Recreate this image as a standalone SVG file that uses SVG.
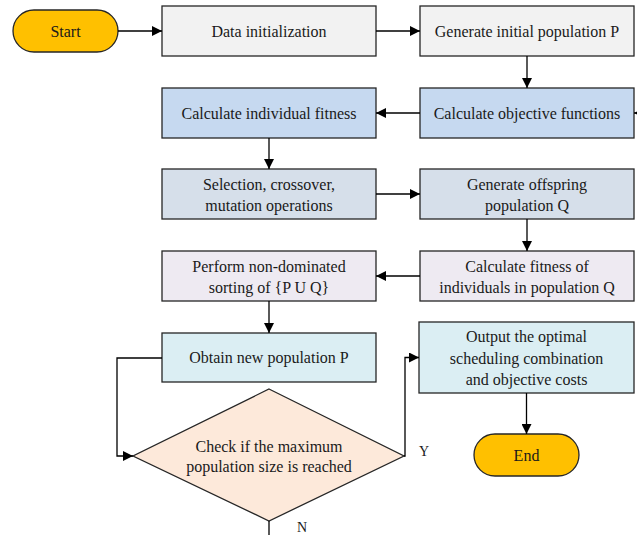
<svg xmlns="http://www.w3.org/2000/svg" width="637" height="535" viewBox="0 0 637 535">
  <defs>
    <marker id="arrow" viewBox="0 0 10 10" refX="10" refY="5" markerWidth="10" markerHeight="10" markerUnits="userSpaceOnUse" orient="auto">
      <path d="M0,0 L10,5 L0,10 z" fill="#000"/>
    </marker>
    <style>
      .box { stroke: #262626; stroke-width: 1.3; }
      .term { fill: #FFC000; stroke: #262626; stroke-width: 1.3; }
      .r1 { fill: #F2F2F2; }
      .r2 { fill: #C6D9F0; }
      .r3 { fill: #D6DFEA; }
      .r4 { fill: #EEEAF2; }
      .r5 { fill: #DBEEF3; }
      .dec { fill: #FDE9DA; stroke: #262626; stroke-width: 1.3; }
      text { font-family: "Liberation Serif", "DejaVu Serif", "Noto Serif", "FreeSerif", "Nimbus Roman", Times, serif; font-size: 16px; fill: #1a1a1a; text-anchor: middle; }
      .edge { fill: none; stroke: #000; stroke-width: 1.3; }
    </style>
  </defs>

  <!-- process nodes -->
  <g id="start">
    <rect class="term" x="13" y="10" width="105" height="42" rx="21"/>
    <text x="65.5" y="36.5">Start</text>
  </g>
  <g id="data-init">
    <rect class="box r1" x="162" y="6" width="214" height="50"/>
    <text x="269" y="36.5">Data initialization</text>
  </g>
  <g id="gen-initial">
    <rect class="box r1" x="420" y="6" width="214" height="50"/>
    <text x="527" y="36.5">Generate initial population P</text>
  </g>
  <g id="calc-fitness">
    <rect class="box r2" x="162" y="88" width="214" height="50"/>
    <text x="269" y="118.5">Calculate individual fitness</text>
  </g>
  <g id="calc-objective">
    <rect class="box r2" x="420" y="88" width="214" height="50"/>
    <text x="527" y="118.5">Calculate objective functions</text>
  </g>
  <g id="genetic-ops">
    <rect class="box r3" x="162" y="169" width="214" height="50"/>
    <text x="269" y="190">Selection, crossover,</text>
    <text x="269" y="211">mutation operations</text>
  </g>
  <g id="gen-offspring">
    <rect class="box r3" x="420" y="169" width="214" height="50"/>
    <text x="527" y="190">Generate offspring</text>
    <text x="527" y="211">population Q</text>
  </g>
  <g id="nd-sort">
    <rect class="box r4" x="162" y="251" width="214" height="50"/>
    <text x="269" y="272">Perform non-dominated</text>
    <text x="269" y="293">sorting of {P U Q}</text>
  </g>
  <g id="calc-fitness-q">
    <rect class="box r4" x="420" y="251" width="214" height="50"/>
    <text x="527" y="272">Calculate fitness of</text>
    <text x="527" y="293">individuals in population Q</text>
  </g>
  <g id="new-pop">
    <rect class="box r5" x="162" y="333" width="214" height="49"/>
    <text x="269" y="363">Obtain new population P</text>
  </g>
  <g id="output">
    <rect class="box r5" x="419" y="322" width="215" height="71"/>
    <text x="526.5" y="342">Output the optimal</text>
    <text x="526.5" y="363.5">scheduling combination</text>
    <text x="526.5" y="385">and objective costs</text>
  </g>
  <g id="end">
    <rect class="term" x="474" y="434" width="105" height="42" rx="21"/>
    <text x="526.5" y="460.5">End</text>
  </g>
  <g id="check">
    <polygon class="dec" points="269,389 404,456 269,521 133,456"/>
    <text x="269" y="452">Check if the maximum</text>
    <text x="269" y="472">population size is reached</text>
  </g>

  <!-- connectors -->
  <g id="connectors">
    <line class="edge" x1="118" y1="31" x2="162" y2="31" marker-end="url(#arrow)"/>
    <line class="edge" x1="376" y1="31" x2="420" y2="31" marker-end="url(#arrow)"/>
    <line class="edge" x1="527" y1="56" x2="527" y2="88" marker-end="url(#arrow)"/>
    <line class="edge" x1="637" y1="113" x2="634" y2="113" marker-end="url(#arrow)"/>
    <line class="edge" x1="420" y1="113" x2="376" y2="113" marker-end="url(#arrow)"/>
    <line class="edge" x1="269" y1="138" x2="269" y2="169" marker-end="url(#arrow)"/>
    <line class="edge" x1="376" y1="194" x2="420" y2="194" marker-end="url(#arrow)"/>
    <line class="edge" x1="527" y1="219" x2="527" y2="251" marker-end="url(#arrow)"/>
    <line class="edge" x1="420" y1="276" x2="376" y2="276" marker-end="url(#arrow)"/>
    <line class="edge" x1="269" y1="301" x2="269" y2="333" marker-end="url(#arrow)"/>
    <polyline class="edge" points="162,358 117,358 117,456 133,456" marker-end="url(#arrow)"/>
    <polyline class="edge" points="404,456 405,456 405,357.5 419,357.5" marker-end="url(#arrow)"/>
    <line class="edge" x1="526.5" y1="393" x2="526.5" y2="434" marker-end="url(#arrow)"/>
    <line class="edge" x1="269" y1="521" x2="269" y2="535"/>
    <text x="424" y="456" style="font-size:14px">Y</text>
    <text x="302" y="532" style="font-size:14px">N</text>
  </g>
</svg>
